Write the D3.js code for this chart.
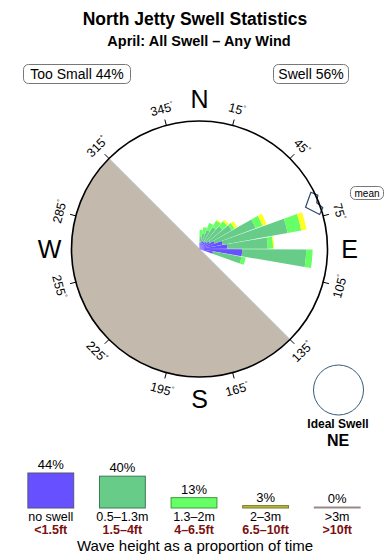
<!DOCTYPE html>
<html>
<head>
<script src="https://cdnjs.cloudflare.com/ajax/libs/d3/7.8.5/d3.min.js"></script>
<style>
  body { margin: 0; background: #fff; }
  text { font-family: "Liberation Sans", Arial, Helvetica, sans-serif; }
</style>
</head>
<body>
<div id="chart"></div>
<script>
var width = 390, height = 560;

// direction bins (degrees, centre of bin)
var directions = [5, 15, 25, 35, 45, 55, 65, 75, 85, 95, 105];
// length of each height band per direction (percent of time)
var noSwell   = [0.6, 0.7, 0.8, 0.8, 0.9, 1.1, 1.5, 2.2, 2.6, 4.0, 1.3];
var band1     = [0.6, 0.8, 1.1, 1.6, 1.9, 2.4, 4.1, 6.2, 3.8, 6.0, 2.7];
var band2     = [0.6, 0.6, 0.7, 0.7, 0.6, 0.3, 0.7, 1.3, 0.5, 0.6, 0.4];
var band3     = [0.0, 0.0, 0.0, 0.1, 0.2, 0.3, 0.4, 0.5, 0.1, 0.0, 0.0];

var bandKeys = ["noSwell", "band1", "band2", "band3"];
var roseColors = ["#6650ff", "#66cc88", "#66ff66", "#ffff22"];

var meanDir = 68.5;
var windowFrom = 135, windowTo = 315;   // blocked sector
var tickAngles = d3.range(15, 360, 30);
var cardinals = [["N", 0], ["E", 90], ["S", 180], ["W", 270]];

// legend
var legendPct = [44, 40, 13, 3, 0];
var legendMetric = ["no swell", "0.5\u20131.3m", "1.3\u20132m", "2\u20133m", ">3m"];
var legendFeet = ["<1.5ft", "1.5\u20134ft", "4\u20136.5ft", "6.5\u201310ft", ">10ft"];
var legendColors = ["#6650ff", "#66cc88", "#66ff66", "#b8c040", "#c8b4aa"];
var legendStroke = ["#555577", "#3d7a55", "#3d9a3d", "#7a7a22", "#998888"];

var cx = 199.5, cy = 249, R = 128;
var rad = Math.PI / 180;

var svg = d3.select("#chart").append("svg")
    .attr("width", width)
    .attr("height", height);

// titles
svg.append("text").attr("x", 195).attr("y", 25)
    .attr("text-anchor", "middle").attr("font-size", 17.5).attr("font-weight", "bold")
    .text("North Jetty Swell Statistics");
svg.append("text").attr("x", 199).attr("y", 46)
    .attr("text-anchor", "middle").attr("font-size", 14.5).attr("font-weight", "bold")
    .text("April: All Swell \u2013 Any Wind");

function labelBox(x, y, w, h, txt, size) {
  svg.append("rect").attr("x", x).attr("y", y).attr("width", w).attr("height", h)
      .attr("rx", 5).attr("fill", "white").attr("stroke", "#777").attr("stroke-width", 1);
  svg.append("text").attr("x", x + w / 2).attr("y", y + h / 2 + size * 0.36)
      .attr("text-anchor", "middle").attr("font-size", size)
      .text(txt);
}
labelBox(23.5, 64.5, 107, 19, "Too Small 44%", 14);
labelBox(273.5, 64.5, 75, 19, "Swell 56%", 14);

var g = svg.append("g").attr("transform", "translate(" + cx + "," + cy + ")");

var r = d3.scaleLinear().domain([0, 12]).range([0, R]);

// blocked half
g.append("path")
    .attr("d", d3.arc()({ innerRadius: 0, outerRadius: R, startAngle: windowFrom * rad, endAngle: windowTo * rad }))
    .attr("fill", "#c4b9ad");
g.append("line")
    .attr("x1", R * Math.sin(windowFrom * rad)).attr("y1", -R * Math.cos(windowFrom * rad))
    .attr("x2", R * Math.sin(windowTo * rad)).attr("y2", -R * Math.cos(windowTo * rad))
    .attr("stroke", "#b4c0cc").attr("stroke-width", 1);

// rose
var rows = directions.map(function(d, i) {
  return { dir: d, noSwell: noSwell[i], band1: band1[i], band2: band2[i], band3: band3[i] };
});
var stack = d3.stack().keys(bandKeys)(rows);
var arc = d3.arc();

stack.forEach(function(layer, k) {
  g.append("g").selectAll("path")
      .data(layer)
      .enter()
      .append("path")
      .attr("d", function(s) {
        return arc({
          innerRadius: r(s[0]), outerRadius: r(s[1]),
          startAngle: (s.data.dir - 4.7) * rad, endAngle: (s.data.dir + 4.7) * rad
        });
      })
      .attr("fill", roseColors[k]);
});

// mean arrow
var arrowPts = [[0, 114], [-5.5, 125], [-3, 130], [0, 126], [3, 130], [5.5, 125]];
g.append("path")
    .attr("d", d3.lineRadial()
        .angle(function(p) { return (meanDir + p[0]) * rad; })
        .radius(function(p) { return p[1]; })
        .curve(d3.curveLinearClosed)(arrowPts))
    .attr("fill", "white").attr("stroke", "#2a4a6a").attr("stroke-width", 1.2);

// outline
g.append("circle").attr("r", R).attr("fill", "none")
    .attr("stroke", "black").attr("stroke-width", 1.6);

// ticks and degree labels
tickAngles.forEach(function(a) {
  var s = Math.sin(a * rad), c = Math.cos(a * rad);
  g.append("line")
      .attr("x1", R * s).attr("y1", -R * c)
      .attr("x2", (R + 6) * s).attr("y2", -(R + 6) * c)
      .attr("stroke", "black").attr("stroke-width", 1);
  var rot = a % 180;
  if (rot > 90) rot -= 180;
  var t = g.append("text")
      .attr("transform", "translate(" + (145 * s) + "," + (-145 * c) + ") rotate(" + rot + ")")
      .attr("text-anchor", "middle").attr("dy", "0.36em")
      .attr("font-size", 12.5);
  t.append("tspan").text(a);
  t.append("tspan").attr("font-size", 7).attr("dy", "-0.7em").text("\u00b0");
});

cardinals.forEach(function(p) {
  g.append("text")
      .attr("x", 150 * Math.sin(p[1] * rad))
      .attr("y", -150 * Math.cos(p[1] * rad))
      .attr("dy", "0.36em")
      .attr("text-anchor", "middle").attr("font-size", 25)
      .text(p[0]);
});

// mean tag
svg.append("rect").attr("x", 350.5).attr("y", 186.5).attr("width", 33).attr("height", 13)
    .attr("rx", 5).attr("fill", "white").attr("stroke", "#777");
svg.append("text").attr("x", 367).attr("y", 196.5).attr("text-anchor", "middle")
    .attr("font-size", 10).text("mean");

// ideal swell
svg.append("circle").attr("cx", 338.5).attr("cy", 390).attr("r", 25)
    .attr("fill", "none").attr("stroke", "#3a5a7a").attr("stroke-width", 1);
svg.append("text").attr("x", 338).attr("y", 428).attr("text-anchor", "middle")
    .attr("font-size", 12).attr("font-weight", "bold").text("Ideal Swell");
svg.append("text").attr("x", 338).attr("y", 446).attr("text-anchor", "middle")
    .attr("font-size", 16).attr("font-weight", "bold").text("NE");

// legend bars
var lx = d3.scaleBand().domain(d3.range(legendPct.length)).range([15, 373]).paddingInner(0.36).paddingOuter(0.18);
var ly = d3.scaleLinear().domain([0, 44]).range([508, 473]);

var lg = svg.append("g");
legendPct.forEach(function(v, i) {
  var x = lx(i), w = lx.bandwidth(), xm = x + w / 2;
  var top = Math.min(ly(v), 507);
  lg.append("rect").attr("x", x).attr("y", top).attr("width", w)
      .attr("height", 508 - top)
      .attr("fill", legendColors[i]).attr("stroke", legendStroke[i]).attr("stroke-width", 1);
  lg.append("text").attr("x", xm).attr("y", top - 4).attr("text-anchor", "middle")
      .attr("font-size", 13).text(v + "%");
  lg.append("text").attr("x", xm).attr("y", 521).attr("text-anchor", "middle")
      .attr("font-size", 12.5).text(legendMetric[i]);
  lg.append("text").attr("x", xm).attr("y", 533.5).attr("text-anchor", "middle")
      .attr("font-size", 12.5).attr("font-weight", "bold").attr("fill", "#7a1010").text(legendFeet[i]);
});
svg.append("text").attr("x", 195).attr("y", 551).attr("text-anchor", "middle")
    .attr("font-size", 15).text("Wave height as a proportion of time");
</script>
</body>
</html>
